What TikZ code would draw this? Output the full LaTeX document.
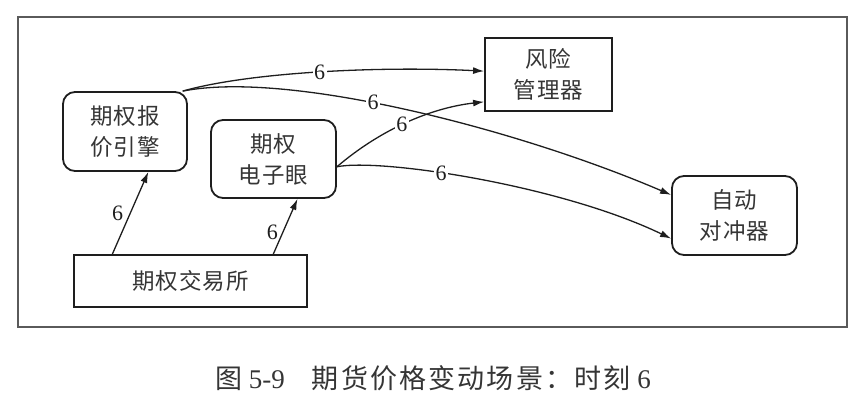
\documentclass[tikz,border=0pt]{standalone}
\usepackage{fontspec}
\setmainfont{Liberation Serif}
\newfontfamily\cjk[LetterSpace=4]{Noto Sans CJK SC}
\newfontfamily\capcjk[LetterSpace=8]{Noto Sans CJK SC}
\usetikzlibrary{arrows.meta}
\definecolor{ink}{HTML}{1E1E1E}
\definecolor{framegrey}{HTML}{5A5A5A}
\tikzset{
  box/.style={draw=ink,line width=1.8pt,align=center,font=\cjk\fontsize{22.5}{31}\selectfont,text=ink!90,inner sep=2pt},
  rbox/.style={box,rounded corners=12pt},
  flow/.style={-{Latex[length=11pt,width=7pt]},line width=1.3pt,draw=ink},
  tag/.style={font=\fontsize{22}{24}\selectfont,text=ink,fill=white,inner sep=1.5pt},
}

\begin{document}
\begin{tikzpicture}[x=1pt,y=-1pt,
  caption/.style={font=\fontsize{27}{30}\selectfont,text=ink!90}]
  \useasboundingbox (0,0) rectangle (865,398);
  \draw[framegrey,line width=1.5pt] (18,17) rectangle (847,327);
  % boxes
  \node[box,minimum width=127pt,minimum height=73pt] (risk) at (548.5,74.5) {风险\\管理器};
  \node[rbox,minimum width=124pt,minimum height=79pt] (quote) at (125,131.5) {期权报\\价引擎};
  \node[rbox,minimum width=125pt,minimum height=78pt] (eye) at (273.5,159) {期权\\电子眼};
  \node[rbox,minimum width=125pt,minimum height=79pt] (hedge) at (734.5,215.5) {自动\\对冲器};
  \node[box,minimum width=233pt,minimum height=52pt] (exch) at (190.5,281) {期权交易所};
  % price flow at time 6
  \draw[flow] (exch.161) -- node[tag,fill=none,pos=0.5,left=5pt] {6} (quote.300);
  \draw[flow] (exch.18) -- node[tag,fill=none,pos=0.4,left=3pt] {6} (eye.301);
  \draw[flow] (quote.35) .. controls (250,72) and (380,66) .. node[tag,pos=0.5] {6} (risk.177);
  \draw[flow] (quote.35) .. controls (290,70) and (520,130) .. node[tag,pos=0.43] {6} (hedge.162);
  \draw[flow] (eye.353) .. controls (380,130) and (430,108) .. node[tag,pos=0.47] {6} (risk.203);
  \draw[flow] (eye.353) .. controls (380,158) and (560,185) .. node[tag,pos=0.4] {6} (hedge.200);
  \node[caption] (cap) at (433,378) {{\capcjk 图} 5-9\quad{\capcjk 期货价格变动场景：时刻} 6};
\end{tikzpicture}
\end{document}
